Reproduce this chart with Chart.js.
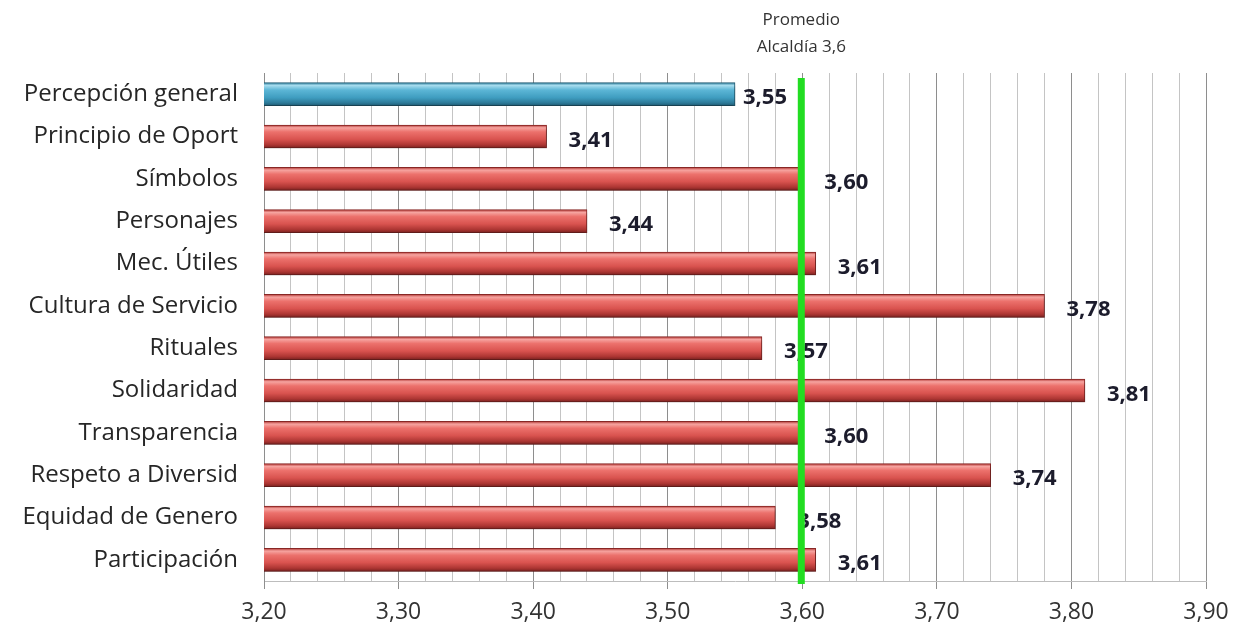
<!DOCTYPE html>
<html>
<head>
<meta charset="utf-8">
<script src="https://cdn.jsdelivr.net/npm/chart.js@4/dist/chart.umd.min.js"></script>
<style>
  html, body { margin: 0; padding: 0; background: #fff; }
  #wrap { width: 1244px; height: 629px; }
</style>
</head>
<body>
<div id="wrap"><canvas id="chart"></canvas></div>
<script>
// datos
const categories = [
  'Percepción general', 'Principio de Oport', 'Símbolos', 'Personajes',
  'Mec. Útiles', 'Cultura de Servicio', 'Rituales', 'Solidaridad',
  'Transparencia', 'Respeto a Diversid', 'Equidad de Genero', 'Participación'
];
const values = [3.55, 3.41, 3.60, 3.44, 3.61, 3.78, 3.57, 3.81, 3.60, 3.74, 3.58, 3.61];
const average = 3.6;
const averageLabel = ['Promedio', 'Alcaldía 3,6'];
const axisMin = 3.2;
const axisMax = 3.9;

const BAR_H = 23;

function fmt(v) {
  return v.toFixed(2).replace('.', ',');
}

function isMajor(v) {
  return Math.abs(v * 10 - Math.round(v * 10)) < 1e-6;
}

function barFill(ctx) {
  const chart = ctx.chart;
  const yScale = chart.scales.y;
  const blue = ctx.dataIndex === 0;
  const flat = blue ? '#3fa0c4' : '#d4504c';
  if (!yScale || ctx.dataIndex === undefined) return flat;
  const yc = yScale.getPixelForValue(ctx.dataIndex);
  if (!isFinite(yc)) return flat;
  const g = chart.ctx.createLinearGradient(0, yc - BAR_H / 2, 0, yc + BAR_H / 2);
  if (blue) {
    g.addColorStop(0, '#2f7f9c');
    g.addColorStop(0.12, '#a6dcee');
    g.addColorStop(0.32, '#5cb6d6');
    g.addColorStop(0.65, '#3f9dc0');
    g.addColorStop(0.88, '#2d7a98');
    g.addColorStop(1, '#1e5a72');
  } else {
    g.addColorStop(0, '#b03431');
    g.addColorStop(0.12, '#f6a4a0');
    g.addColorStop(0.3, '#ec716c');
    g.addColorStop(0.62, '#d9534f');
    g.addColorStop(0.86, '#ad3633');
    g.addColorStop(1, '#7a2220');
  }
  return g;
}

const shadowPlugin = {
  id: 'barShadow',
  beforeDatasetsDraw(chart) {
    const c = chart.ctx;
    c.save();
    c.shadowColor = 'rgba(0,0,0,0.35)';
    c.shadowOffsetY = 3;
    c.shadowOffsetX = 1;
    c.shadowBlur = 4;
  },
  afterDatasetsDraw(chart) {
    chart.ctx.restore();
  }
};

const valueLabels = {
  id: 'valueLabels',
  afterDatasetsDraw(chart) {
    const c = chart.ctx;
    const meta = chart.getDatasetMeta(0);
    c.save();
    c.font = 'bold 22px "Open Sans", sans-serif';
    c.fillStyle = '#1c1c2c';
    c.textAlign = 'left';
    c.textBaseline = 'middle';
    meta.data.forEach(function (bar, i) {
      const off = i === 0 ? 8 : 22;
      c.fillText(fmt(values[i]), bar.x + off, bar.y + 4);
    });
    c.restore();
  }
};

const averageLine = {
  id: 'averageLine',
  afterDatasetsDraw(chart) {
    const c = chart.ctx;
    const x = chart.scales.x.getPixelForValue(average) - 1;
    const area = chart.chartArea;
    c.save();
    c.strokeStyle = '#22dd22';
    c.lineWidth = 7;
    c.beginPath();
    c.moveTo(x, area.top + 5);
    c.lineTo(x, area.bottom + 3);
    c.stroke();
    c.font = '17px "Open Sans", sans-serif';
    c.fillStyle = '#333';
    c.textAlign = 'center';
    c.textBaseline = 'middle';
    c.fillText(averageLabel[0], x, 20);
    c.fillText(averageLabel[1], x, 47);
    c.restore();
  }
};

new Chart(document.getElementById('chart').getContext('2d'), {
  type: 'bar',
  data: {
    labels: categories,
    datasets: [
      {
        data: values,
        backgroundColor: barFill,
        borderColor: function (ctx) { return ctx.dataIndex === 0 ? '#235f77' : '#8a2826'; },
        borderWidth: 1,
        borderSkipped: 'start',
        barThickness: BAR_H,
      },
    ],
  },
  options: {
    indexAxis: 'y',
    responsive: true,
    maintainAspectRatio: false,
    animation: false,
    layout: { padding: { left: 0, top: 73, right: 38, bottom: 0 } },
    plugins: {
      legend: { display: false },
      tooltip: { enabled: false },
    },
    scales: {
      x: {
        min: axisMin,
        max: axisMax,
        afterFit: function (scale) { scale.height = 48; },
        ticks: {
          stepSize: 0.02,
          autoSkip: false,
          maxRotation: 0,
          padding: 10,
          color: '#333',
          font: { family: 'Open Sans', size: 23 },
          callback: function (v) { return isMajor(v) ? fmt(v) : ''; },
        },
        grid: {
          color: function (ctx) { return ctx.tick && isMajor(ctx.tick.value) ? '#8e8e8e' : '#c4c4c4'; },
          tickColor: function (ctx) { return ctx.tick && isMajor(ctx.tick.value) ? '#8e8e8e' : 'rgba(0,0,0,0)'; },
          tickLength: 8,
        },
        border: { color: '#bdbdbd' },
      },
      y: {
        afterFit: function (scale) { scale.width = 264; },
        ticks: {
          padding: 26,
          color: '#262626',
          font: { family: 'Open Sans', size: 24 },
        },
        grid: { display: false, drawTicks: false },
        border: { color: '#8e8e8e' },
      },
    },
  },
  plugins: [shadowPlugin, valueLabels, averageLine],
});
</script>
</body>
</html>
